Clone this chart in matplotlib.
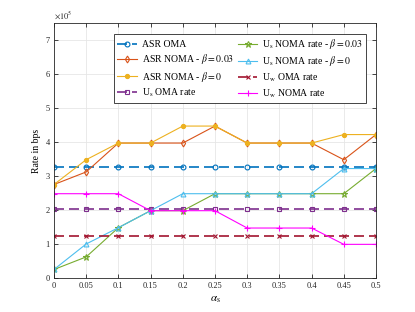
import numpy as np
import matplotlib
matplotlib.use("Agg")
import matplotlib.pyplot as plt

# ======================================================= #
# DATA (rates in units of 1e5 bps)
# ======================================================= #
alpha_s = [0, 0.05, 0.1, 0.15, 0.2, 0.25, 0.3, 0.35, 0.4, 0.45, 0.5]
asr_oma = [3.27] * 11
asr_noma_003 = [2.75, 3.12, 3.97, 3.97, 3.97, 4.47, 3.97, 3.97, 3.97, 3.48, 4.22]
asr_noma_0 = [2.75, 3.48, 3.97, 3.97, 4.47, 4.47, 3.97, 3.97, 3.97, 4.22, 4.22]
us_oma = [2.02] * 11
us_noma_003 = [0.25, 0.62, 1.48, 1.98, 1.98, 2.48, 2.48, 2.48, 2.48, 2.48, 3.22]
us_noma_0 = [0.25, 1.00, 1.48, 1.98, 2.48, 2.48, 2.48, 2.48, 2.48, 3.22, 3.22]
uw_oma = [1.24] * 11
uw_noma = [2.48, 2.48, 2.48, 1.98, 1.98, 1.98, 1.47, 1.47, 1.47, 0.99, 0.99]

xticks = [0, 0.05, 0.1, 0.15, 0.2, 0.25, 0.3, 0.35, 0.4, 0.45, 0.5]
xticklabels = ["0", "0.05", "0.1", "0.15", "0.2", "0.25", "0.3", "0.35", "0.4", "0.45", "0.5"]
yticks = [0, 1, 2, 3, 4, 5, 6, 7]

# ======================================================= #
# STYLE
# ======================================================= #
plt.rcParams["font.family"] = ["Liberation Serif", "DejaVu Serif"]
plt.rcParams["mathtext.fontset"] = "stix"

fig = plt.figure(figsize=(4.15, 3.12), dpi=100)
ax = fig.add_axes([0.130, 0.109, 0.776, 0.817])

lw = 0.8
ms = 3.5
dash = (0, (6, 3))

ax.plot(alpha_s, asr_oma, color="#0072BD", ls=dash, lw=1.2, marker="o", ms=ms, mfc="none", mew=0.8, label="ASR OMA")
ax.plot(alpha_s, asr_noma_003, color="#D95319", lw=lw, marker="d", ms=ms, mfc="none", mew=0.8, label=r"ASR NOMA - $\beta = 0.03$")
ax.plot(alpha_s, asr_noma_0, color="#EDB120", lw=lw, marker="o", ms=3, mfc="#EDB120", mew=0.8, label=r"ASR NOMA - $\beta = 0$")
ax.plot(alpha_s, us_oma, color="#7E2F8E", ls=dash, lw=1.2, marker="s", ms=3, mfc="none", mew=0.8, label=r"U$_\mathrm{s}$ OMA rate")
ax.plot(alpha_s, us_noma_003, color="#77AC30", lw=lw, marker="*", ms=4.5, mfc="none", mew=0.8, label=r"U$_\mathrm{s}$ NOMA rate - $\beta = 0.03$")
ax.plot(alpha_s, us_noma_0, color="#4DBEEE", lw=lw, marker="^", ms=ms, mfc="none", mew=0.8, label=r"U$_\mathrm{s}$ NOMA rate - $\beta = 0$")
ax.plot(alpha_s, uw_oma, color="#A2142F", ls=dash, lw=1.2, marker="x", ms=3, mew=0.8, label=r"U$_\mathrm{w}$ OMA rate")
ax.plot(alpha_s, uw_noma, color="#FF00FF", lw=lw, marker="+", ms=4, mew=0.8, label=r"U$_\mathrm{w}$ NOMA rate")

ax.set_xlim(0, 0.5)
ax.set_ylim(0, 7.5)
ax.set_xticks(xticks)
ax.set_xticklabels(xticklabels)
ax.set_yticks(yticks)
ax.tick_params(direction="in", top=True, right=True, labelsize=6, length=3, width=0.6, colors="#262626", pad=3)
ax.grid(True, color="#e6e6e6", lw=0.6)
ax.set_axisbelow(True)
for s in ax.spines.values():
    s.set_color("#262626")
    s.set_linewidth(0.6)

ax.set_xlabel(r"$\alpha_\mathrm{s}$", fontsize=8, labelpad=3)
ax.set_ylabel("Rate in bps", fontsize=7, labelpad=3)
ax.text(0.0, 1.01, r"$\times 10^5$", transform=ax.transAxes, fontsize=6, ha="left", va="bottom", color="#262626")

leg = ax.legend(ncol=2, loc="upper right", bbox_to_anchor=(0.983, 0.975), fontsize=7, frameon=True, fancybox=False,
                edgecolor="#262626", framealpha=1, handlelength=2.0, handletextpad=0.5, columnspacing=0.4,
                labelspacing=0.33, borderpad=0.3)
leg.get_frame().set_linewidth(0.6)

fig.savefig("out.png", dpi=100)
